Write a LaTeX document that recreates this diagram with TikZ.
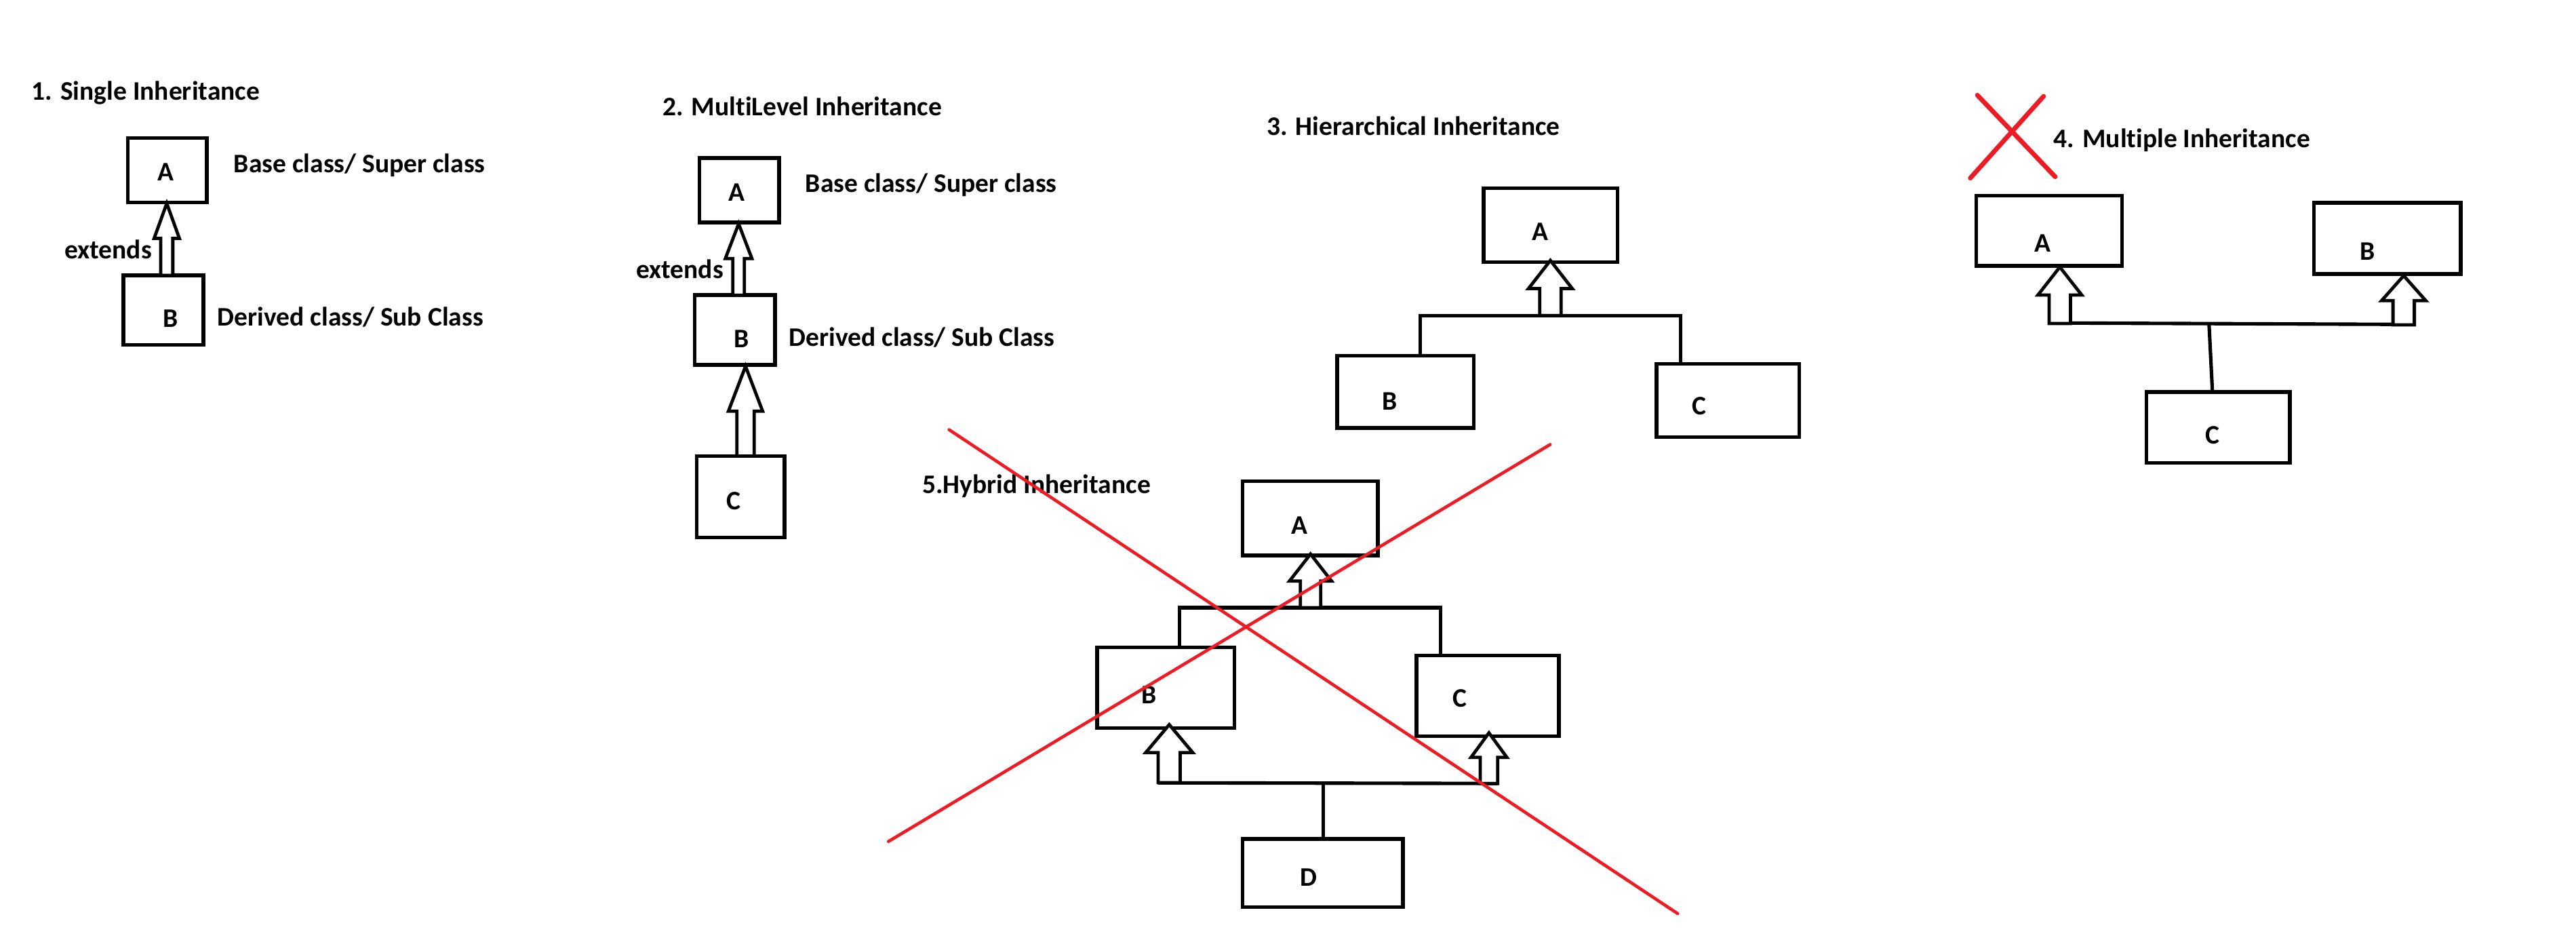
\documentclass[tikz,border=0pt]{standalone}
\usepackage{fontspec}
\setmainfont{Carlito}[Ligatures=NoCommon]
\usetikzlibrary{fit}
\definecolor{xred}{RGB}{237,28,36}
\newcommand{\inharrow}[6]{% xc, ybottom, yheadbase, ytip, shaft half, head half
  \draw[harrowsty] (#1-#5,#2) -- (#1-#5,#3) -- (#1-#6,#3) -- (#1,#4) -- (#1+#6,#3) -- (#1+#5,#3) -- (#1+#5,#2) -- cycle;}
\begin{document}
\begin{tikzpicture}[x=0.025cm, y=-0.025cm,
  box/.style={draw, line width=1.6pt, inner sep=0pt, outer sep=0pt},
  txt/.style={font=\fontsize{11.6pt}{13pt}\selectfont\bfseries, inner sep=0pt, anchor=base west},
  lbl/.style={font=\fontsize{11.6pt}{13pt}\selectfont\bfseries, inner sep=0pt, anchor=base},
  conn/.style={line width=1.5pt},
  harrowsty/.style={draw, line width=1.4pt, fill=white, line join=miter},
  redthick/.style={draw=xred, line width=2.0pt, line cap=round},
  redthin/.style={draw=xred, line width=1.35pt, line cap=round}]
\fill[white] (0,0) rectangle (1568,572);
\useasboundingbox (0,0) rectangle (1568,572);

% ---------- 1. Single ----------
\node[txt] (t1) at (19,61) {1. Single Inheritance};
\node[box, fit={(77.9,83.9) (125.9,123.1)}] (s1A) {};
\node[box, fit={(75.2,167.6) (123.8,209.8)}] (s1B) {};
\node[lbl] (s1Al) at (100.7,109.8) {A};
\node[lbl] (s1Bl) at (103.8,199.3) {B};
\node[txt] (s1base) at (142.1,105) {Base class/ Super class};
\node[txt] (s1der) at (132.2,198.3) {Derived class/ Sub Class};
\node[txt] (s1ext) at (39,157.3) {extends};
\inharrow{101.5}{167.6}{145.1}{123.8}{3.7}{7.7}

% ---------- 2. MultiLevel ----------
\node[txt] (t2) at (403.1,70.5) {2. MultiLevel Inheritance};
\node[box, fit={(425.8,96.2) (474.2,135.3)}] (s2A) {};
\node[box, fit={(422.8,179.6) (471.8,222)}] (s2B) {};
\node[box, fit={(424.2,277.6) (477.5,327.1)}] (s2C) {};
\node[lbl] (s2Al) at (448.5,122.2) {A};
\node[lbl] (s2Bl) at (451.5,211.6) {B};
\node[lbl] (s2Cl) at (446.5,310.3) {C};
\node[txt] (s2base) at (490,117) {Base class/ Super class};
\node[txt] (s2der) at (480,210.7) {Derived class/ Sub Class};
\node[txt] (s2ext) at (386.9,169.6) {extends};
\inharrow{449.6}{179.6}{157.4}{136.2}{3.5}{8.1}
\inharrow{453.8}{277.6}{250.2}{222.9}{5.3}{10.4}

% ---------- 3. Hierarchical ----------
\node[txt] (t3) at (770.9,82.3) {3. Hierarchical Inheritance};
\node[box, fit={(903,114.5) (984.5,159.6)}] (s3A) {};
\node[box, fit={(814,216.5) (897,260.5)}] (s3B) {};
\node[box, fit={(1008.4,221.5) (1095.3,266)}] (s3C) {};
\node[lbl] (s3Al) at (937.7,146.3) {A};
\node[lbl] (s3Bl) at (846,249.5) {B};
\node[lbl] (s3Cl) at (1034.3,252.3) {C};
\coordinate (h3L) at (864.3,192);
\coordinate (h3R) at (1023,192);
\draw[conn] (h3L |- s3B.north) -- (h3L) -- (h3R) -- (h3R |- s3C.north);
\inharrow{943.7}{192}{175.6}{158.5}{6.5}{13.3}

% ---------- 4. Multiple ----------
\draw[redthick] (1203.6,57.9) -- (1251,107.6);
\draw[redthick] (1243.9,58.6) -- (1199.3,108.4);
\node[txt] (t4) at (1249.8,89.9) {4. Multiple Inheritance};
\node[box, fit={(1203,119) (1291.7,161.8)}] (s4A) {};
\node[box, fit={(1408.5,123.4) (1497.9,166.8)}] (s4B) {};
\node[box, fit={(1306.6,238.6) (1393.9,281.7)}] (s4C) {};
\node[lbl] (s4Al) at (1243.4,153.3) {A};
\node[lbl] (s4Bl) at (1441,158.3) {B};
\node[lbl] (s4Cl) at (1346.8,270.3) {C};
\coordinate (h4L) at (1260.4,196.6);
\coordinate (h4R) at (1456.6,197.4);
\coordinate (h4M) at (1344.6,196.9);
\coordinate (h4C) at (1346.7,238.6);
\draw[conn] (h4L) -- (h4R);
\draw[conn] (h4M) -- (h4C);
\inharrow{1253.8}{196.9}{179.5}{162.5}{6.5}{13.3}
\inharrow{1463.1}{197.7}{182.9}{167.8}{6.5}{13.4}

% ---------- 5. Hybrid ----------
\node[txt] (t5) at (561.2,300.1) {5.Hybrid Inheritance};
\node[box, fit={(756.4,292.8) (838.6,338)}] (s5A) {};
\node[box, fit={(667.8,394) (751.4,443)}] (s5B) {};
\node[box, fit={(862.2,399) (948.8,448)}] (s5C) {};
\node[box, fit={(756.4,510.5) (854,552)}] (s5D) {};
\node[lbl] (s5Al) at (790.8,325) {A};
\node[lbl] (s5Bl) at (699.4,428.3) {B};
\node[lbl] (s5Cl) at (888.6,430.3) {C};
\node[lbl] (s5Dl) at (796.5,539.3) {D};
\coordinate (h5L) at (718,369.8);
\coordinate (h5R) at (876.8,369.8);
\draw[conn] (h5L |- s5B.north) -- (h5L) -- (h5R) -- (h5R |- s5C.north);
\inharrow{797.7}{369.8}{353.6}{337.2}{6.2}{12.8}
\coordinate (b5L) at (705,476.4);
\coordinate (b5R) at (911.6,476.8);
\coordinate (b5M) at (805.3,476.6);
\draw[conn] (b5L) -- (b5R);
\draw[conn] (b5M) -- (b5M |- s5D.north);
\inharrow{711.7}{476.3}{458}{441}{6.7}{14.3}
\inharrow{906.3}{476.8}{460.9}{446}{5.3}{10.9}
\draw[redthin] (577.7,261.5) -- (1021.2,556);
\draw[redthin] (943.6,270.5) -- (540.8,512.1);
\end{tikzpicture}
\end{document}
